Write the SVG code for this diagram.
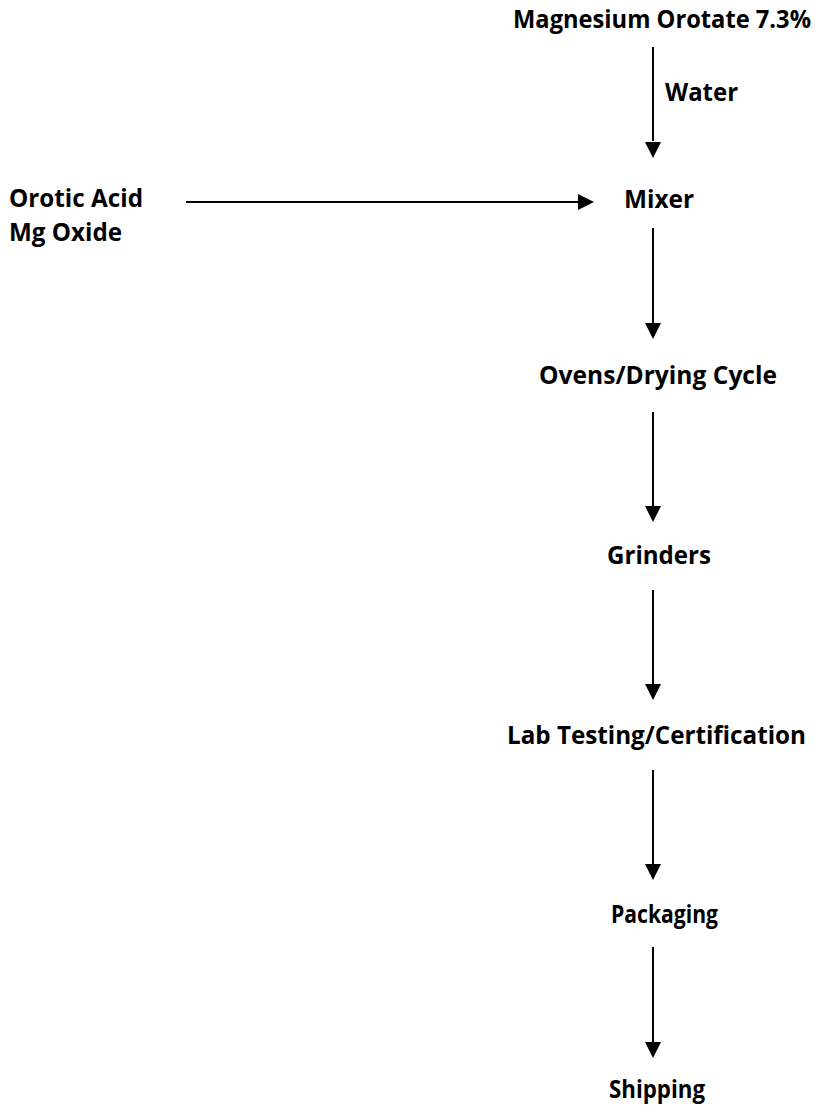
<svg xmlns="http://www.w3.org/2000/svg" width="815" height="1111" viewBox="0 0 815 1111">
<style>
text{font-family:"Open Sans","Liberation Sans",sans-serif;font-weight:bold;font-size:25px;fill:#000}
.c line{stroke:#000;stroke-width:2}
</style>
<rect width="815" height="1111" fill="#fff"/>
<g class="c">
<line x1="653" y1="47" x2="653" y2="141"/><path d="M645,142 L661,142 L653,158 Z"/>
<line x1="186" y1="202" x2="578" y2="202"/><path d="M578,194 L578,210 L594,202 Z"/>
<line x1="653" y1="228" x2="653" y2="323"/><path d="M645,323 L661,323 L653,339 Z"/>
<line x1="653" y1="412" x2="653" y2="506"/><path d="M645,506 L661,506 L653,522 Z"/>
<line x1="653" y1="590" x2="653" y2="684"/><path d="M645,684 L661,684 L653,700 Z"/>
<line x1="653" y1="770" x2="653" y2="864"/><path d="M645,864 L661,864 L653,880 Z"/>
<line x1="653" y1="947" x2="653" y2="1042"/><path d="M645,1042 L661,1042 L653,1058 Z"/>
</g>
<g id="magnesium"><text x="513" y="28" textLength="298" lengthAdjust="spacingAndGlyphs">Magnesium Orotate 7.3%</text></g>
<g id="water"><text x="665" y="101" textLength="73" lengthAdjust="spacingAndGlyphs">Water</text></g>
<g id="inputs"><text x="9" y="207" textLength="134" lengthAdjust="spacingAndGlyphs">Orotic Acid</text><text x="9" y="241" textLength="113" lengthAdjust="spacingAndGlyphs">Mg Oxide</text></g>
<g id="mixer"><text x="624" y="208" textLength="70" lengthAdjust="spacingAndGlyphs">Mixer</text></g>
<g id="ovens"><text x="539" y="384" textLength="238" lengthAdjust="spacingAndGlyphs">Ovens/Drying Cycle</text></g>
<g id="grinders"><text x="607" y="564" textLength="104" lengthAdjust="spacingAndGlyphs">Grinders</text></g>
<g id="lab"><text x="507" y="744" textLength="299" lengthAdjust="spacingAndGlyphs">Lab Testing/Certification</text></g>
<g id="packaging"><text x="611" y="923" textLength="107" lengthAdjust="spacingAndGlyphs">Packaging</text></g>
<g id="shipping"><text x="609" y="1098" textLength="96" lengthAdjust="spacingAndGlyphs">Shipping</text></g>
</svg>
